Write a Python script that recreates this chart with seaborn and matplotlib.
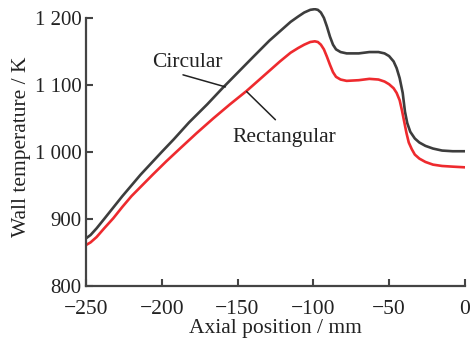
import numpy as np
import pandas as pd
import matplotlib
matplotlib.use("Agg")
import matplotlib.pyplot as plt
import seaborn as sns

# data
circ_x = [-250, -247, -243, -238, -232, -226, -220, -214, -207, -200, -192, -182,
          -170, -160, -150, -140, -129, -121, -115, -110, -106, -102, -99, -97,
          -95, -93, -91, -89, -87, -85, -82, -78, -70, -63, -57, -53, -50, -47,
          -45, -43, -41, -39.5, -38, -36, -33, -30, -26, -21, -15, -8, 0]
circ_y = [871, 876, 886, 900, 917, 934, 950, 966, 983, 1000, 1019, 1044,
          1071, 1095, 1118, 1141, 1166, 1182, 1194, 1202, 1208, 1212, 1213, 1212,
          1208, 1200, 1187, 1172, 1160, 1153, 1149, 1147, 1147, 1149, 1149, 1147, 1143, 1135,
          1125, 1110, 1088, 1060, 1043, 1030, 1020, 1014, 1009, 1005, 1002, 1001, 1001]

rect_x = [-250, -247, -243, -238, -232, -226, -220, -213, -206, -197, -188, -177,
          -166, -155, -144, -136, -129, -122, -115, -110, -106, -102, -99, -97,
          -95, -93, -91, -89, -87, -85, -82, -78, -70, -63, -57, -53, -50, -47,
          -45, -43, -41.5, -40, -38.5, -37, -35, -33, -30, -26, -21, -15, -8, 0]
rect_y = [861, 865, 873, 886, 901, 918, 934, 950, 966, 986, 1005, 1028,
          1050, 1071, 1091, 1107, 1121, 1135, 1148, 1155, 1160, 1164, 1165, 1164,
          1160, 1153, 1142, 1130, 1119, 1112, 1108, 1106, 1107, 1109, 1108, 1105, 1101, 1095,
          1088, 1077, 1062, 1045, 1028, 1014, 1004, 996, 990, 985, 981, 979, 978, 977]

x_ticks = [-250, -200, -150, -100, -50, 0]
y_ticks = [800, 900, 1000, 1100, 1200]
y_ticklabels = ["800", "900", "1 000", "1 100", "1 200"]

sns.set_style("ticks")
plt.rcParams['font.family'] = ['Liberation Serif', 'DejaVu Serif']

fig = plt.figure(figsize=(4.7, 3.4), dpi=100)
ax = fig.add_axes([0.183, 0.159, 0.806, 0.818])

circ = pd.DataFrame({'x': circ_x, 'y': circ_y})
rect = pd.DataFrame({'x': rect_x, 'y': rect_y})
sns.lineplot(data=circ, x='x', y='y', ax=ax, color='#3d3d3d', lw=1.9, sort=False,
             solid_joinstyle='round')
sns.lineplot(data=rect, x='x', y='y', ax=ax, color='#ee2a2e', lw=1.9, sort=False,
             solid_joinstyle='round')

ax.set_xlim(-250, 0)
ax.set_ylim(800, 1215)
ax.set_xticks(x_ticks)
ax.set_yticks(y_ticks)
ax.set_yticklabels(y_ticklabels)
ax.tick_params(direction='in', length=5, width=1.5, color='#444444',
               labelsize=15.5, labelcolor='#222222')
ax.tick_params(axis='x', pad=10)
ax.tick_params(axis='y', pad=3, labelsize=15)

for s in ['top', 'right']:
    ax.spines[s].set_visible(False)
for s in ['left', 'bottom']:
    ax.spines[s].set_linewidth(1.6)
    ax.spines[s].set_color('#444444')
ax.spines['left'].set_bounds(800, 1200)

ax.set_xlabel('Axial position / mm', fontsize=15.5, color='#222222', labelpad=0)
ax.set_ylabel('Wall temperature / K', fontsize=15.5, color='#222222')
ax.yaxis.set_label_coords(-0.146, 0.5)

# labels with leader lines
ax.text(-183, 1133, 'Circular', fontsize=15.5, ha='center', va='center', color='#222222')
ax.annotate('', xy=(-158, 1097), xytext=(-186, 1115),
            arrowprops=dict(arrowstyle='-', lw=1.1, color='#222222', shrinkA=0, shrinkB=0))
ax.text(-119, 1022, 'Rectangular', fontsize=15.5, ha='center', va='center', color='#222222')
ax.annotate('', xy=(-144, 1090), xytext=(-125, 1048),
            arrowprops=dict(arrowstyle='-', lw=1.1, color='#222222', shrinkA=0, shrinkB=0))

fig.savefig('out.png', dpi=100)
